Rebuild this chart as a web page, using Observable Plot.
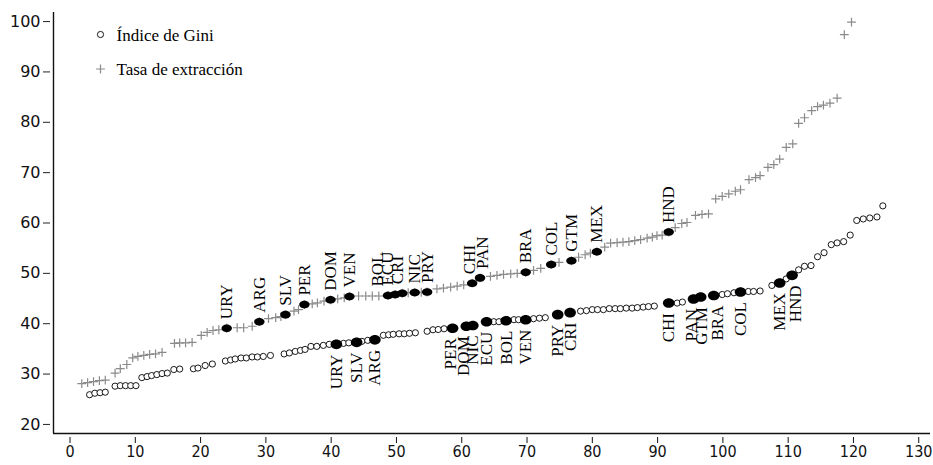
<!DOCTYPE html>
<html>
<head>
<meta charset="utf-8">
<script src="https://cdn.jsdelivr.net/npm/d3@7"></script>
<script src="https://cdn.jsdelivr.net/npm/@observablehq/plot@0.6"></script>
<style>
  html, body { margin: 0; padding: 0; background: #fff; }
  #chart svg { display: block; }
</style>
</head>
<body>
<div id="chart"></div>
<script>
// ---- Data (x = rank position, y = value) ----
const extraction = [
  [1.8,28.1],[2.7,28.3],[3.6,28.5],[4.5,28.7],[5.4,28.8],[6.9,30.2],[7.7,31.1],[8.7,31.9],
  [9.6,33.2],[10.4,33.5],[11.3,33.7],[12.2,33.9],[13.1,34.0],[14.1,34.3],
  [16.0,36.1],[16.8,36.2],[17.7,36.2],[18.7,36.3],
  [20.1,37.7],[21.0,38.3],[21.9,38.65],[22.8,38.8],
  [25.6,39.2],[26.6,39.2],[27.9,39.5],[30.4,41.0],[31.5,41.2],[32.3,41.4],
  [34.3,42.5],[35.0,42.8],[37.1,43.95],[37.9,44.15],[38.9,44.5],[41.0,44.95],[42.0,45.15],
  [44.2,45.5],[45.3,45.5],[46.3,45.5],[47.3,45.5],[51.8,46.15],[53.8,46.25],
  [56.2,46.9],[57.2,47.05],[58.3,47.25],[59.3,47.45],[60.3,47.7],
  [64.4,49.4],[65.4,49.6],[66.4,49.8],[67.5,49.9],[68.5,50.0],[71.0,50.6],[72.1,51.0],
  [74.9,52.2],[77.9,53.2],[78.9,53.7],[79.7,54.0],
  [81.9,55.2],[82.8,56.0],[83.8,56.1],[84.7,56.2],[85.6,56.3],[86.5,56.5],[87.4,56.7],
  [88.4,57.0],[89.2,57.2],[89.9,57.5],[90.7,57.6],
  [92.7,59.1],[93.7,59.9],[94.5,60.1],[95.8,61.5],[96.8,61.7],[97.8,61.8],
  [98.9,64.8],[99.9,65.3],[100.9,65.8],[101.9,66.3],[102.7,66.6],
  [104.0,68.6],[105.0,69.0],[105.7,69.4],[106.9,71.05],[107.8,71.6],[108.7,72.7],
  [109.7,75.0],[110.7,75.7],
  [111.6,79.8],[112.5,80.9],[113.6,82.3],[114.5,83.1],[115.4,83.4],[116.4,83.8],[117.5,84.8],
  [118.6,97.4],[119.7,99.9]
];
const gini = [
  [3.0,25.9],[3.8,26.2],[4.6,26.3],[5.4,26.4],
  [6.9,27.6],[7.7,27.7],[8.5,27.7],[9.3,27.7],[10.1,27.7],
  [11.0,29.3],[11.8,29.5],[12.5,29.7],[13.3,29.9],[14.1,30.1],[14.9,30.2],[15.9,30.9],[16.8,31.0],
  [18.9,31.05],[19.6,31.2],[20.7,31.7],[21.8,32.0],
  [23.8,32.6],[24.6,32.8],[25.3,33.0],[26.2,33.2],[27.0,33.2],[27.9,33.4],[28.7,33.4],[29.6,33.5],[30.7,33.7],
  [32.8,34.0],[33.6,34.2],[34.5,34.5],[35.3,34.7],[36.0,34.9],[36.9,35.5],[37.8,35.5],[38.8,35.7],[39.7,35.9],
  [41.9,36.1],[42.7,36.2],[44.7,36.5],[45.6,36.7],
  [48.0,37.7],[48.8,37.8],[49.5,37.9],[50.4,38.0],[51.2,38.0],[52.0,38.1],[52.9,38.2],
  [54.7,38.5],[55.6,38.8],[56.4,38.85],[57.3,39.0],
  [64.9,40.4],[65.7,40.4],[68.0,40.8],[68.7,40.8],[71.0,41.0],[71.9,41.1],[72.8,41.2],
  [78.2,42.5],[79.1,42.6],[80.0,42.8],[80.8,42.8],[81.7,42.8],[82.6,43.0],[83.5,43.0],[84.3,43.0],
  [85.2,43.1],[86.1,43.1],[86.9,43.2],[87.8,43.3],[88.6,43.4],[89.5,43.5],
  [93.0,44.1],[93.8,44.3],[99.9,45.8],[100.7,45.95],[101.7,46.15],
  [103.9,46.4],[104.7,46.4],[105.7,46.5],[107.5,47.6],[109.7,48.9],
  [111.6,50.7],[112.5,51.4],[113.5,51.55],[114.5,53.3],[115.5,54.1],[116.6,55.7],[117.5,56.05],[118.5,56.3],[119.5,57.6],
  [120.5,60.5],[121.5,60.8],[122.5,61.0],[123.6,61.2],[124.5,63.4]
];
// Highlighted Latin American countries
const extractionCountries = ["URY","ARG","SLV","PER","DOM","VEN","BOL","ECU","CRI","NIC","PRY","CHI","PAN","BRA","COL","GTM","MEX","HND"];
const extractionCountryRank = [24.0,29.0,33.0,35.9,39.9,42.8,48.7,49.8,50.9,52.8,54.7,61.6,62.8,69.8,73.7,76.8,80.7,91.7];
const extractionCountryValue = [39.1,40.4,41.8,43.8,44.75,45.4,45.6,45.8,46.05,46.2,46.3,48.05,49.1,50.2,51.75,52.5,54.3,58.2];
const giniCountries = ["URY","SLV","ARG","PER","DOM","NIC","ECU","BOL","VEN","PRY","CRI","CHI","PAN","GTM","BRA","COL","MEX","HND"];
const giniCountryRank = [40.8,43.9,46.7,58.6,60.7,61.7,63.8,66.8,69.8,74.7,76.6,91.7,95.5,96.6,98.6,102.7,108.7,110.6];
const giniCountryValue = [35.9,36.3,36.8,39.1,39.5,39.65,40.4,40.6,40.8,41.8,42.2,44.1,44.9,45.3,45.6,46.3,48.1,49.6];
const xTicks = [0,10,20,30,40,50,60,70,80,90,100,110,120,130];
const yTicks = [20,30,40,50,60,70,80,90,100];
const legendLabels = ["Índice de Gini", "Tasa de extracción"];

// ---- Build tables ----
const extRows = extraction.map(([r, v]) => ({rank: r, value: v}));
const giniRows = gini.map(([r, v]) => ({rank: r, value: v}));
const extHL = extractionCountries.map((c, i) => ({code: c, rank: extractionCountryRank[i], value: extractionCountryValue[i]}));
const giniHL = giniCountries.map((c, i) => ({code: c, rank: giniCountryRank[i], value: giniCountryValue[i]}));

// ---- Layout / styling ----
const W = 933, H = 465;
const mL = 53, mR = 3, mT = 12, mB = 32;
const xDomain = [-2.53, 131.8];
const yDomain = [18.2, 101.8];
const pxPerX = (W - mL - mR) / (xDomain[1] - xDomain[0]);
// small horizontal label nudges (pixels) to keep crowded labels legible, as in the reference
const extNudgePx = {BOL: -10, ECU: -8, CRI: -5, CHI: -3, PAN: 3};
const giniNudgePx = {PER: -2, DOM: -3, PAN: -2, GTM: 1, BRA: 4, HND: 3};
const serif = "'Liberation Serif', 'DejaVu Serif', serif";

const plusSymbol = {
  draw(ctx, size) {
    const r = Math.sqrt(size / Math.PI);
    ctx.moveTo(-r, 0); ctx.lineTo(r, 0);
    ctx.moveTo(0, -r); ctx.lineTo(0, r);
  }
};
const ellipseSymbol = (rx, ry) => ({
  draw(ctx) {
    const k = 0.5523;
    ctx.moveTo(rx, 0);
    ctx.bezierCurveTo(rx, ry * k, rx * k, ry, 0, ry);
    ctx.bezierCurveTo(-rx * k, ry, -rx, ry * k, -rx, 0);
    ctx.bezierCurveTo(-rx, -ry * k, -rx * k, -ry, 0, -ry);
    ctx.bezierCurveTo(rx * k, -ry, rx, -ry * k, rx, 0);
    ctx.closePath();
  }
});

const allExt = extRows.concat(extHL);

const chart = Plot.plot({
  width: W, height: H,
  marginLeft: mL, marginRight: mR, marginTop: mT, marginBottom: mB,
  x: {domain: xDomain, axis: null},
  y: {domain: yDomain, axis: null},
  style: {background: "#fff"},
  marks: [
    // axes
    Plot.ruleX([xDomain[0]], {stroke: "#111", strokeWidth: 1.4}),
    Plot.ruleY([yDomain[0]], {stroke: "#111", strokeWidth: 1.4}),
    Plot.axisY({ticks: yTicks, label: null, tickSize: 7, dx: -3, tickPadding: 3, tickFormat: d => d,
      fontSize: 16, fontFamily: "'DejaVu Sans', sans-serif", stroke: "#222", color: "#111"}),
    Plot.axisX({ticks: xTicks, label: null, tickSize: 6, dy: 4, tickPadding: 2, tickFormat: d => d,
      fontSize: 16, fontFamily: "'DejaVu Sans Condensed', 'Liberation Sans Narrow', sans-serif", color: "#111"}),
    // extraction series
    Plot.dot(allExt, {x: "rank", y: "value", symbol: plusSymbol, r: 4.4, stroke: "#8a8a8a", strokeWidth: 1.2, fill: "none"}),
    Plot.dot(extHL, {x: "rank", y: "value", symbol: ellipseSymbol(5.2, 3.8), fill: "#000", stroke: "none"}),
    // gini series
    Plot.dot(giniRows, {x: "rank", y: "value", r: 3.1, stroke: "#000", strokeWidth: 0.9, fill: "#fff"}),
    Plot.dot(giniHL, {x: "rank", y: "value", symbol: ellipseSymbol(5.8, 4.8), fill: "#000", stroke: "none"}),
    // labels
    Plot.text(extHL, {x: d => d.rank + (extNudgePx[d.code] || 0) / pxPerX, y: "value", text: "code",
      rotate: -90, textAnchor: "start", lineAnchor: "middle", dy: -9,
      fontSize: 17, fontFamily: serif, fill: "#000"}),
    Plot.text(giniHL, {x: d => d.rank + (giniNudgePx[d.code] || 0) / pxPerX, y: "value", text: "code",
      rotate: -90, textAnchor: "end", lineAnchor: "middle", dy: 10,
      fontSize: 17, fontFamily: serif, fill: "#000"}),
    // legend
    Plot.dot([0], {frameAnchor: "top-left", dx: 100 - mL, dy: 34 - mT, r: 3.1, stroke: "#000", strokeWidth: 0.9, fill: "#fff"}),
    Plot.dot([0], {frameAnchor: "top-left", dx: 100 - mL, dy: 68.5 - mT, symbol: plusSymbol, r: 4.4, stroke: "#8a8a8a", strokeWidth: 1.2, fill: "none"}),
    Plot.text([legendLabels[0]], {frameAnchor: "top-left", dx: 116 - mL, dy: 35 - mT, text: d => d,
      textAnchor: "start", lineAnchor: "middle", fontSize: 17, fontFamily: serif, fill: "#000"}),
    Plot.text([legendLabels[1]], {frameAnchor: "top-left", dx: 116 - mL, dy: 69 - mT, text: d => d,
      textAnchor: "start", lineAnchor: "middle", fontSize: 17, fontFamily: serif, fill: "#000"})
  ]
});
document.getElementById("chart").appendChild(chart);
</script>
</body>
</html>
